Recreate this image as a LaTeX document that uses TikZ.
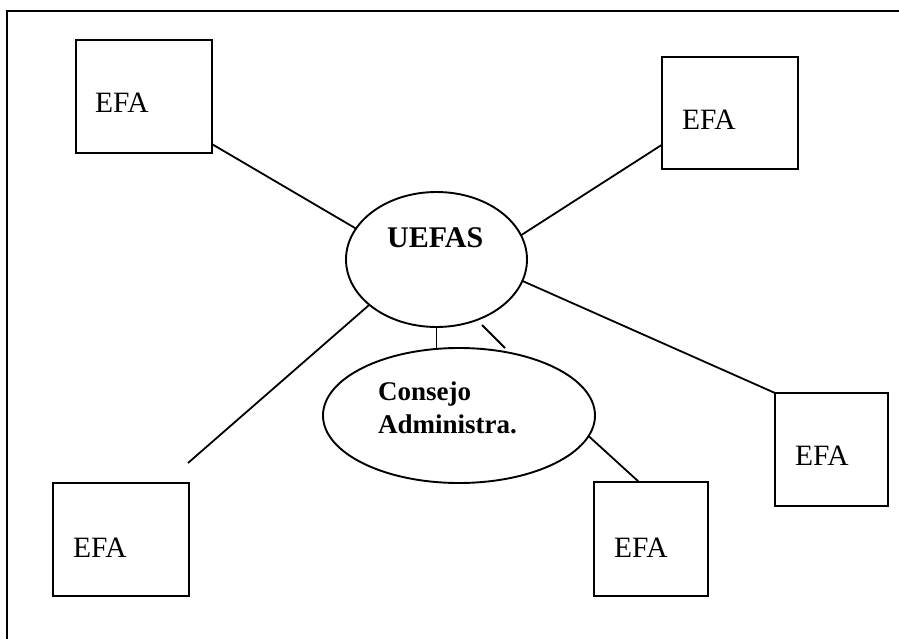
\documentclass[tikz,border=0pt]{standalone}
\usepackage{fontspec}
\setmainfont{Liberation Serif}
\usetikzlibrary{shapes.geometric}
\begin{document}
\begin{tikzpicture}[x=1pt,y=-1pt,
  efabox/.style={draw, rectangle, line width=1.9pt, inner sep=0pt, outer sep=0pt},
  oval/.style={draw, ellipse, line width=1.9pt, inner sep=0pt, outer sep=0pt},
  efatext/.style={anchor=base west, inner sep=0pt, font=\fontsize{29.5}{35}\selectfont},
  boldtext/.style={anchor=base west, inner sep=0pt, font=\fontsize{#1}{33}\selectfont\bfseries},
  conn/.style={line width=1.8pt}]
\useasboundingbox (0,0) rectangle (899,639);
% outer frame (only top and left edges visible)
\draw[line width=2.2pt] (7,639) -- (7,11) -- (899,11);
% boxes
\node[efabox, minimum width=136pt, minimum height=113pt] (tl) at (144,96.5) {};
\node[efabox, minimum width=136pt, minimum height=112pt] (tr) at (730,113) {};
\node[efabox, minimum width=113pt, minimum height=113pt] (rt) at (831.5,449.5) {};
\node[efabox, minimum width=136pt, minimum height=113pt] (bl) at (121,539.5) {};
\node[efabox, minimum width=114pt, minimum height=114pt] (br) at (651,539) {};
% ellipses
\node[oval, minimum width=181pt, minimum height=135pt] (uefas) at (436.5,259.5) {};
\node[oval, minimum width=272pt, minimum height=135pt] (consejo) at (459,415.5) {};
% texts
\node[efatext] (ttl) at (95,113) {EFA};
\node[efatext] (ttr) at (682,130) {EFA};
\node[efatext] (trt) at (795,465) {EFA};
\node[efatext] (tbl) at (73,557) {EFA};
\node[efatext] (tbr) at (614,557) {EFA};
\node[boldtext=30] (tuefas) at (387,247) {UEFAS};
\node[boldtext=27] (tcons1) at (378,400) {Consejo};
\node[boldtext=27] (tcons2) at (378,433) {Administra.};
% free ends
\coordinate (blend) at (188,463);
\coordinate (d1) at (482,325);
\coordinate (d2) at (505,348);
\coordinate (brtop) at (639,482);
% connectors
\draw[conn] (tl.-35.5) -- (uefas.159);
\draw[conn] (tr.205.9) -- (uefas.16);
\draw[conn] (uefas.-14) -- (rt.north west);
\draw[conn] (uefas.214) -- (blend);
\draw[conn] (uefas.south) -- (uefas.south |- consejo.north);
\draw[conn] (d1) -- (d2);
\draw[conn] (consejo.-9.5) -- (brtop);
\end{tikzpicture}
\end{document}
